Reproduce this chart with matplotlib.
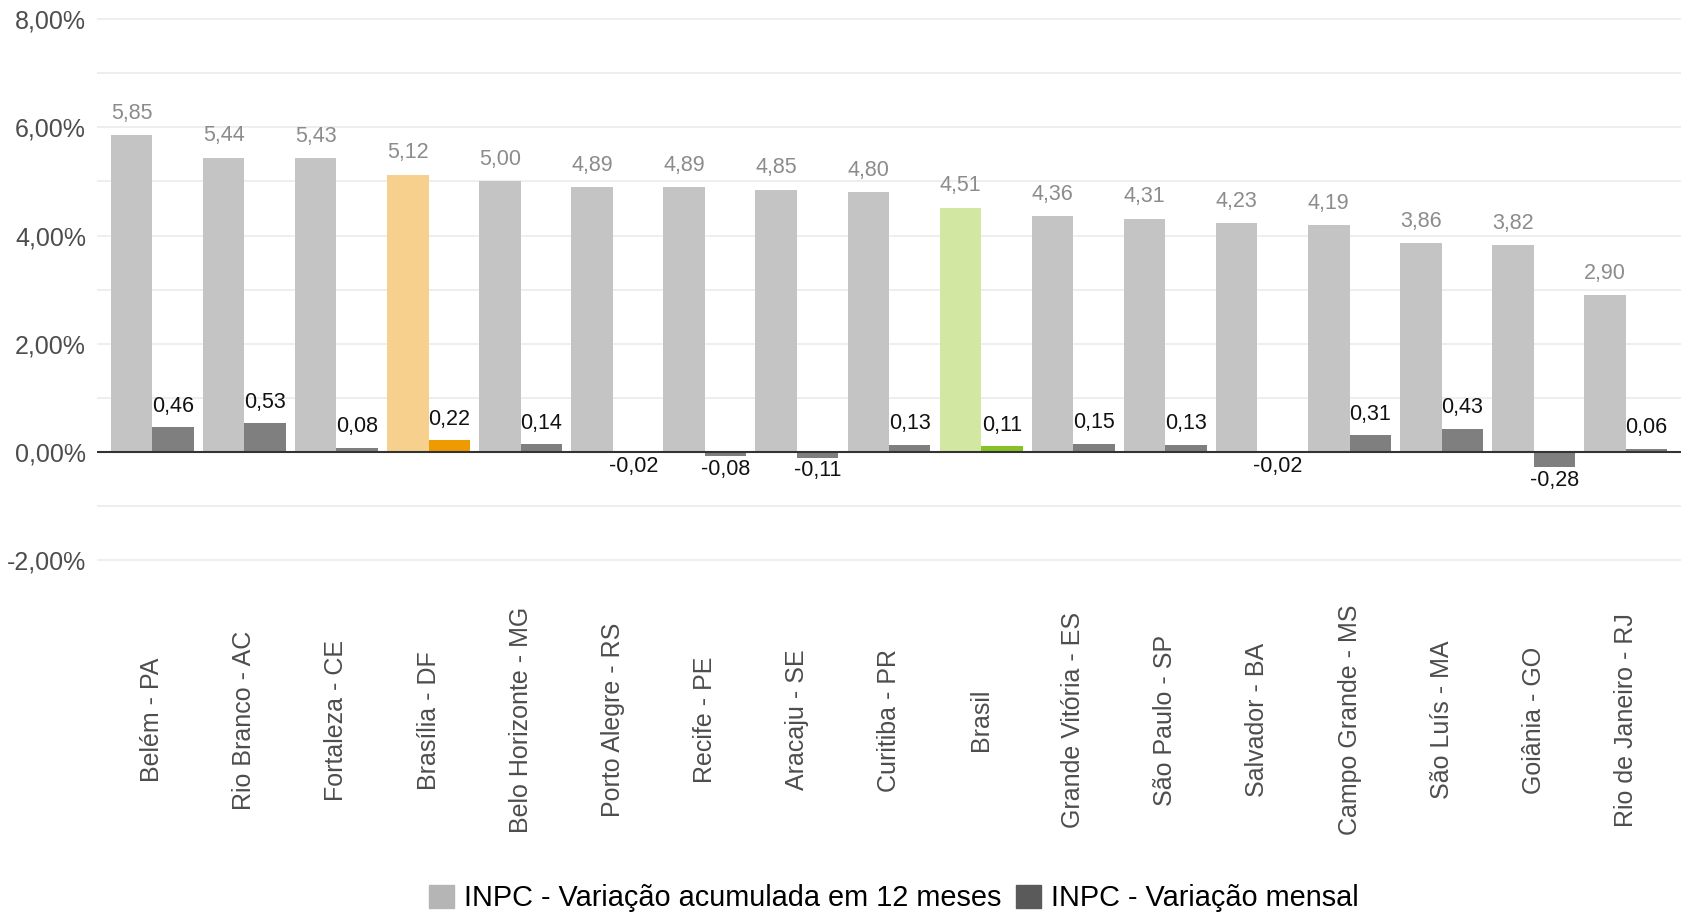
import numpy as np
import matplotlib
matplotlib.use("Agg")
import matplotlib.pyplot as plt
from matplotlib.patches import Patch

plt.rcParams['font.family'] = ['Liberation Sans', 'DejaVu Sans']

# data
regioes = ["Belém - PA", "Rio Branco - AC", "Fortaleza - CE", "Brasília - DF",
           "Belo Horizonte - MG", "Porto Alegre - RS", "Recife - PE", "Aracaju - SE",
           "Curitiba - PR", "Brasil", "Grande Vitória - ES", "São Paulo - SP",
           "Salvador - BA", "Campo Grande - MS", "São Luís - MA", "Goiânia - GO",
           "Rio de Janeiro - RJ"]
acum_12m = [5.85, 5.44, 5.43, 5.12, 5.00, 4.89, 4.89, 4.85, 4.80, 4.51,
            4.36, 4.31, 4.23, 4.19, 3.86, 3.82, 2.90]
mensal = [0.46, 0.53, 0.08, 0.22, 0.14, -0.02, -0.08, -0.11, 0.13, 0.11,
          0.15, 0.13, -0.02, 0.31, 0.43, -0.28, 0.06]
y_ticks = [-2, 0, 2, 4, 6, 8]

serie_acum = "INPC - Variação acumulada em 12 meses"
serie_mensal = "INPC - Variação mensal"

# colours: default grey, Brasília in orange, Brasil in green
cor_acum = ["#C4C4C4"] * len(regioes)
cor_mensal = ["#7F7F7F"] * len(regioes)
cor_acum[3], cor_mensal[3] = "#F6D08C", "#EE9A00"
cor_acum[9], cor_mensal[9] = "#D2E8A2", "#86C226"


def fmt(v):
    return f"{v:.2f}".replace(".", ",")


fig = plt.figure(figsize=(16.9, 9.13), dpi=100)
ax = fig.add_axes([0.0574, 0.339, 0.9373, 0.6549])

x = np.arange(len(regioes))
w = 0.45
ax.bar(x - w / 2, acum_12m, width=w, color=cor_acum, zorder=2)
ax.bar(x + w / 2, mensal, width=w, color=cor_mensal, zorder=2)

for xi, v in zip(x, acum_12m):
    ax.annotate(fmt(v), (xi - w / 2, v), xytext=(0, 22), textcoords="offset pixels",
                ha="center", va="center", fontsize=15.5, color="#8C8C8C")
for xi, v in zip(x, mensal):
    off = 21 if v >= 0 else -13
    ax.annotate(fmt(v), (xi + w / 2, v), xytext=(0, off), textcoords="offset pixels",
                ha="center", va="center", fontsize=15.5, color="#111111")

ax.axhline(0, color="#333333", lw=1.5, zorder=3)

ax.set_xlim(-0.6, len(regioes) - 0.4)
ax.set_ylim(-2.8, 8.25)
ax.set_yticks(y_ticks)
ax.set_yticklabels([f"{t:.2f}".replace(".", ",") + "%" for t in y_ticks],
                   fontsize=18, color="#4D4D4D")
ax.set_yticks(np.arange(-1, 8, 2), minor=True)
ax.grid(axis="y", which="both", color="#EBEBEB", lw=1.2, zorder=0)
ax.tick_params(axis="y", which="both", length=0, pad=8)

ax.set_xticks(x)
ax.set_xticklabels(regioes, rotation=90, fontsize=18, color="#4D4D4D")
for lab in ax.get_xticklabels():
    lab.set_verticalalignment("center")
ax.tick_params(axis="x", length=0, pad=84)

for s in ax.spines.values():
    s.set_visible(False)

handles = [Patch(color="#B5B5B5", label=serie_acum),
           Patch(color="#5A5A5A", label=serie_mensal)]
fig.legend(handles=handles, loc="center", bbox_to_anchor=(0.529, 0.0164), ncol=2,
           frameon=False, fontsize=20.8, handlelength=0.85, handleheight=0.85,
           handletextpad=0.36, columnspacing=0.5)

fig.savefig("out.png", dpi=100)
